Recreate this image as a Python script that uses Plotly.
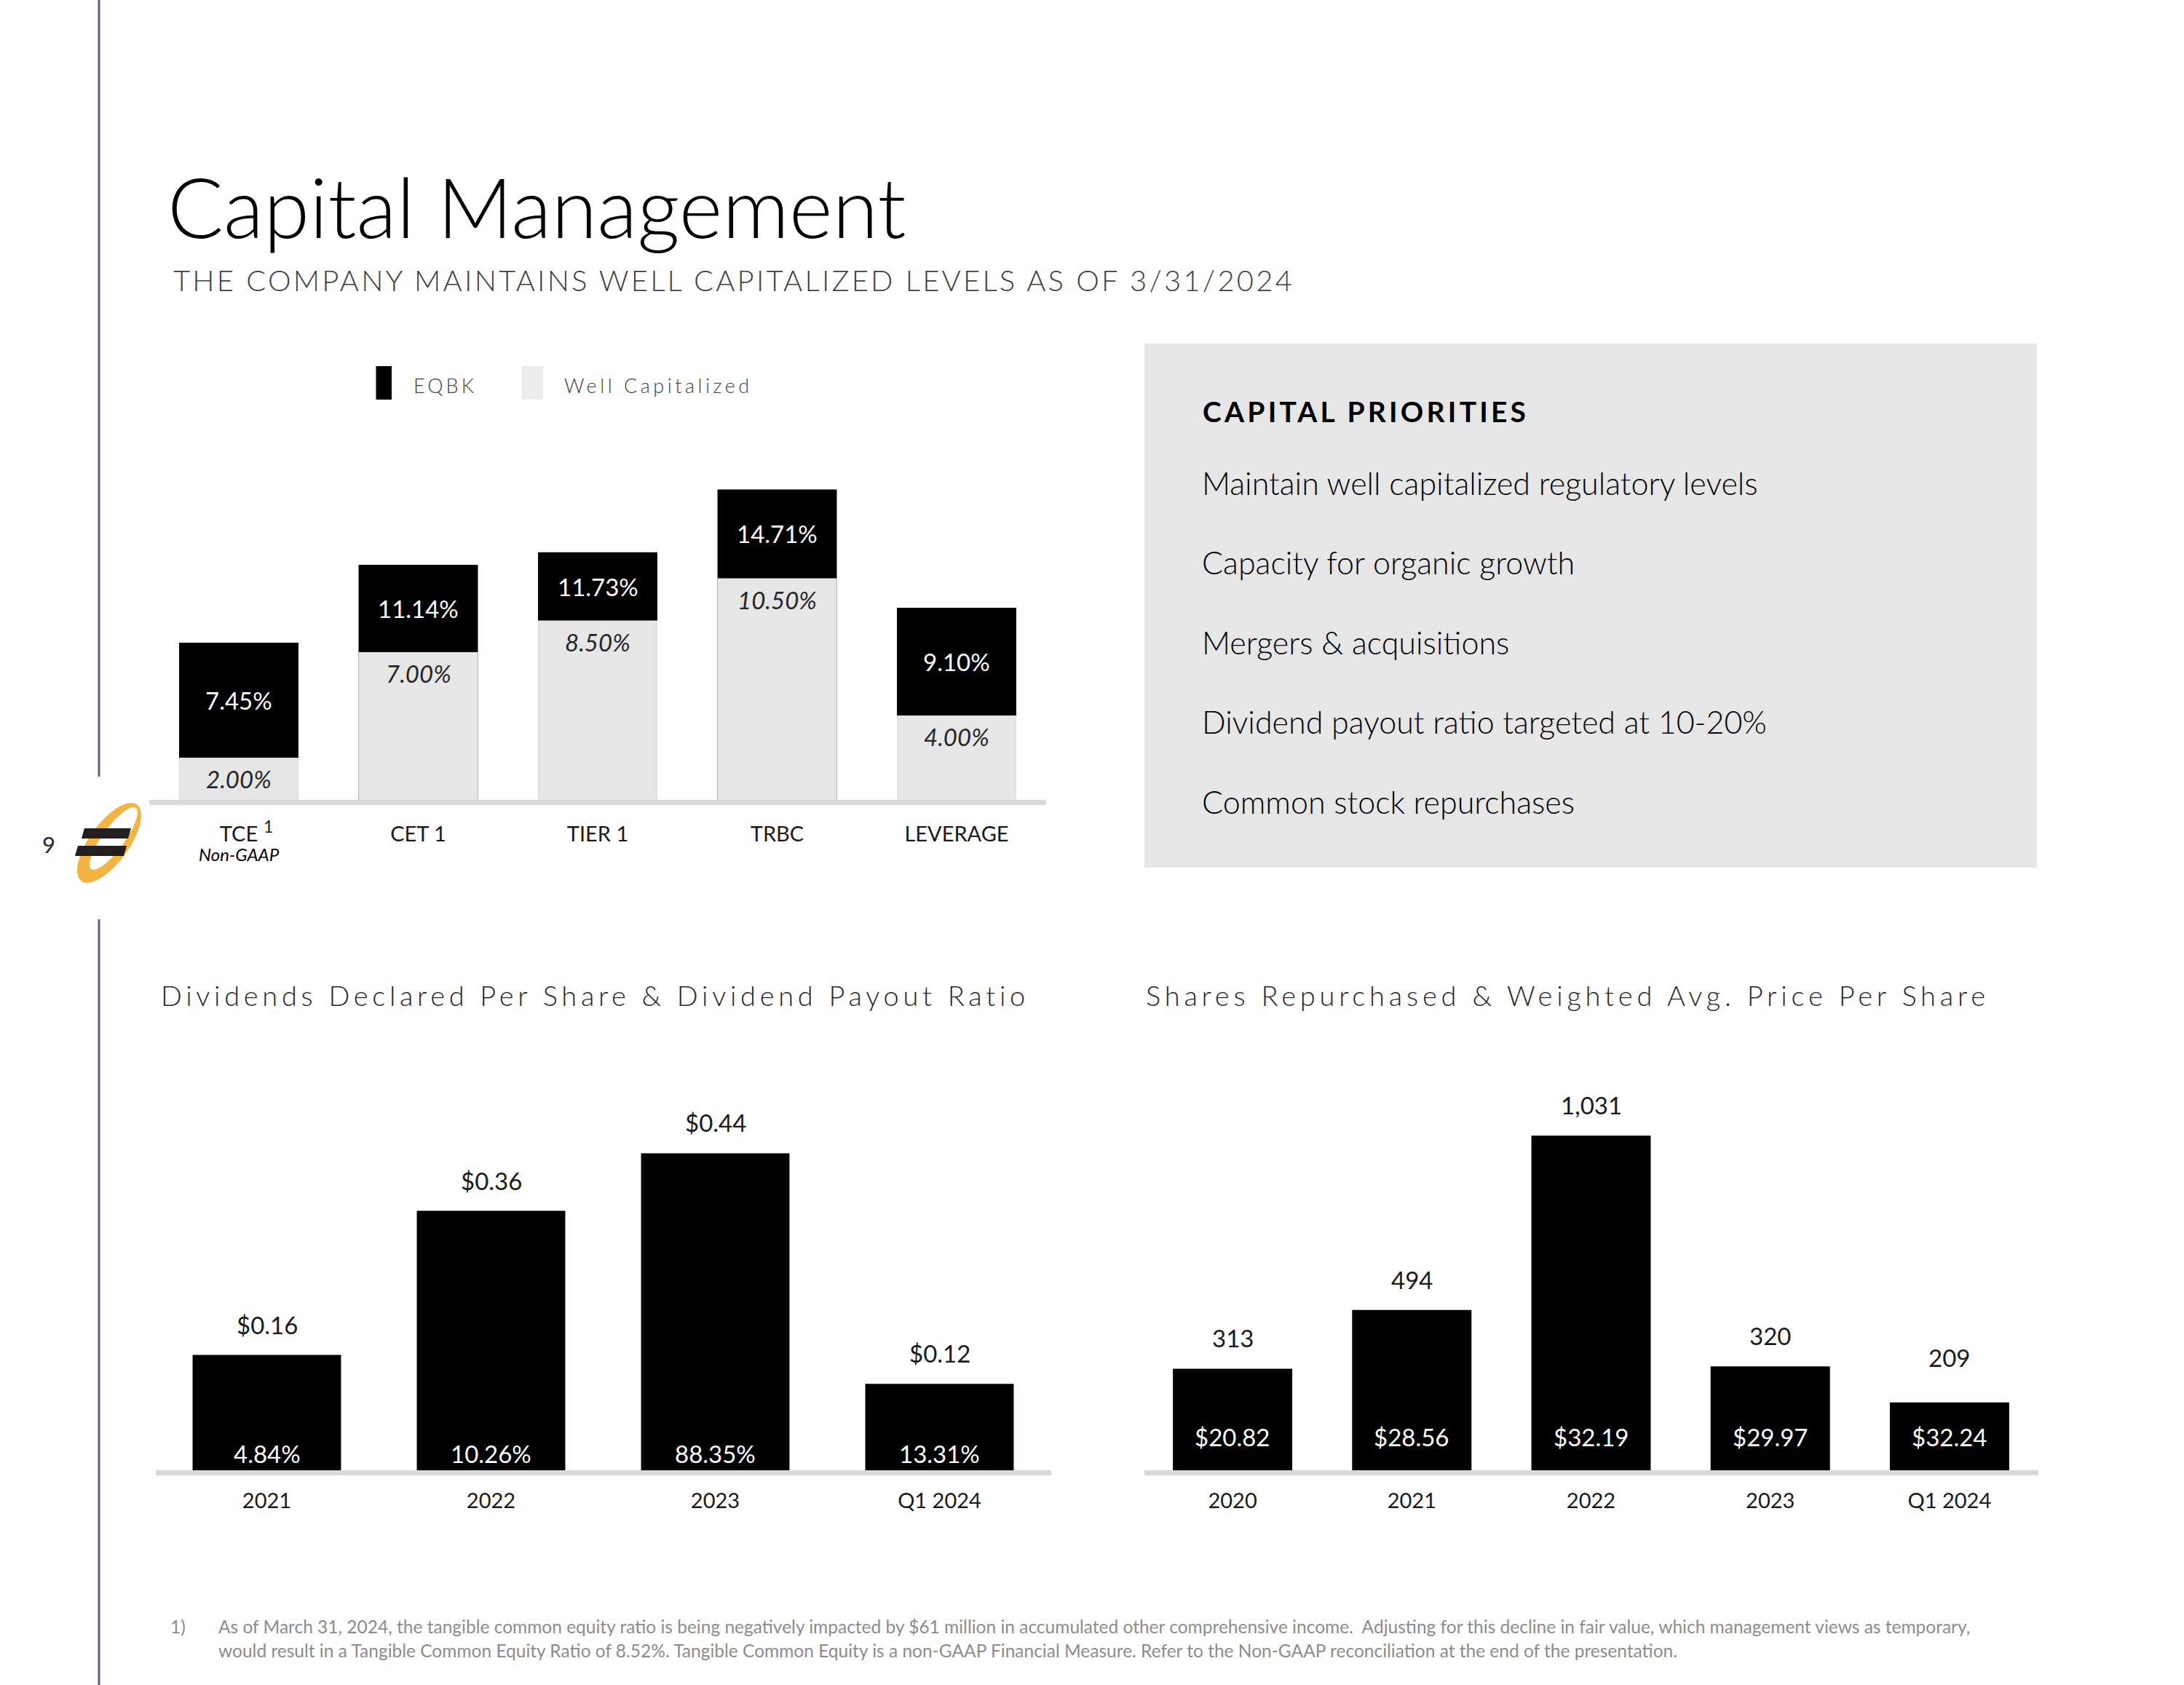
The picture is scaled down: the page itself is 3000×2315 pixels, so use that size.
import json
import numpy as np
import plotly.graph_objects as go

W, H = 3000, 2315
FONT = "Lato"

# ---------------- data ----------------
cap_categories = ["TCE", "CET 1", "TIER 1", "TRBC", "LEVERAGE"]
eqbk_ratio = [7.45, 11.14, 11.73, 14.71, 9.10]
well_cap_ratio = [2.00, 7.00, 8.50, 10.50, 4.00]

div_periods = ["2021", "2022", "2023", "Q1 2024"]
div_per_share = [0.16, 0.36, 0.44, 0.12]
div_payout_ratio = [4.84, 10.26, 88.35, 13.31]

rep_periods = ["2020", "2021", "2022", "2023", "Q1 2024"]
shares_repurchased = [313, 494, 1031, 320, 209]
avg_price_per_share = [20.82, 28.56, 32.19, 29.97, 32.24]

priorities = [
    "Maintain well capitalized regulatory levels",
    "Capacity for organic growth",
    "Mergers & acquisitions",
    "Dividend payout ratio targeted at 10-20%",
    "Common stock repurchases",
]

footnote_lines = [
    "As of March 31, 2024, the tangible common equity ratio is being negatively impacted by $61 million in accumulated other comprehensive income.  Adjusting for this decline in fair value, which management views as temporary,",
    "would result in a Tangible Common Equity Ratio of 8.52%. Tangible Common Equity is a non-GAAP Financial Measure. Refer to the Non-GAAP reconciliation at the end of the presentation.",
]

TITLE = "Capital Management"
SUBTITLE = "THE COMPANY MAINTAINS WELL CAPITALIZED LEVELS AS OF 3/31/2024"
BOX_TITLE = "CAPITAL PRIORITIES"
DIV_TITLE = "Dividends Declared Per Share & Dividend Payout Ratio"
REP_TITLE = "Shares Repurchased & Weighted Avg. Price Per Share"
LEG_EQBK = "EQBK"
LEG_WELL = "Well Capitalized"


def X(px):
    return px / W


def Y(py):
    return 1 - py / H


fig = go.Figure()

# ---------------- traces ----------------
fig.add_trace(go.Bar(x=cap_categories, y=eqbk_ratio, name=LEG_EQBK,
                     marker=dict(color="#000000", line=dict(width=0)),
                     width=0.665, xaxis="x", yaxis="y", hoverinfo="x+y"))
fig.add_trace(go.Bar(x=cap_categories, y=well_cap_ratio, name=LEG_WELL,
                     marker=dict(color="#E7E6E6", line=dict(width=0)),
                     width=0.665, xaxis="x", yaxis="y", hoverinfo="x+y"))
fig.add_trace(go.Bar(x=div_periods, y=div_per_share, name="Dividends Declared Per Share",
                     marker=dict(color="#000000", line=dict(width=0)),
                     width=0.662, xaxis="x2", yaxis="y2", hoverinfo="x+y"))
fig.add_trace(go.Bar(x=rep_periods, y=shares_repurchased, name="Shares Repurchased",
                     marker=dict(color="#000000", line=dict(width=0)),
                     width=0.666, xaxis="x3", yaxis="y3", hoverinfo="x+y"))

tickfont = dict(family=FONT, size=29, color="#1a1a1a")
ax_common = dict(type="category", showgrid=False, zeroline=False, showline=False, ticks="",
                 tickfont=tickfont, fixedrange=True)
yax_common = dict(visible=False, showgrid=False, zeroline=False, fixedrange=True)

fig.update_layout(
    width=W, height=H,
    margin=dict(l=0, r=0, t=0, b=0),
    paper_bgcolor="white", plot_bgcolor="rgba(0,0,0,0)",
    barmode="overlay",
    showlegend=False,
    font=dict(family=FONT, color="#000000"),
    xaxis=dict(domain=[X(204.75), X(1437.25)], range=[-0.5, 4.5], anchor="y", ticklabelstandoff=27, **ax_common),
    yaxis=dict(domain=[Y(1099), Y(1099 - 29 * 17)], range=[0, 17], anchor="x", **yax_common),
    xaxis2=dict(domain=[X(212.5), X(1444.5)], range=[-0.5, 3.5], anchor="y2", ticklabelstandoff=22, **ax_common),
    yaxis2=dict(domain=[Y(2020), Y(2020 - 990 * 0.6)], range=[0, 0.6], anchor="x2", **yax_common),
    xaxis3=dict(domain=[X(1570), X(2801)], range=[-0.5, 4.5], anchor="y3", ticklabelstandoff=22, **ax_common),
    yaxis3=dict(domain=[Y(2020), Y(2020 - 0.446 * 1200)], range=[0, 1200], anchor="x3", **yax_common),
)

shapes = []
ann = []

# background box for priorities
shapes.append(dict(type="rect", xref="paper", yref="paper", x0=X(1572), x1=X(2798), y0=Y(472), y1=Y(1192),
                   fillcolor="#E7E6E6", line=dict(width=0), layer="below"))

# baselines
for (x0, x1, y0) in [(205, 1437, 1099), (214, 1444, 2020), (1572, 2800, 2020)]:
    shapes.append(dict(type="rect", xref="paper", yref="paper", x0=X(x0), x1=X(x1), y0=Y(y0), y1=Y(y0 + 7),
                       fillcolor="#D9D9D9", line=dict(width=0), layer="above"))

# left vertical rule
for (y0, y1) in [(0, 1067), (1263, 2315)]:
    shapes.append(dict(type="line", xref="paper", yref="paper", x0=X(136), x1=X(136), y0=Y(y0), y1=Y(y1),
                       line=dict(color="#5A6378", width=3)))

# legend swatches
shapes.append(dict(type="rect", xref="paper", yref="paper", x0=X(516.5), x1=X(538), y0=Y(503), y1=Y(549),
                   fillcolor="#000000", line=dict(width=0)))
shapes.append(dict(type="rect", xref="paper", yref="paper", x0=X(716.5), x1=X(746), y0=Y(503), y1=Y(549),
                   fillcolor="#EDEDED", line=dict(width=0)))


# logo
def ellipse_path(cx, cy, a, b, ang, n=90, reverse=False):
    t = np.linspace(0, 2 * np.pi, n, endpoint=False)
    if reverse:
        t = t[::-1]
    th = np.radians(ang)
    ux, uy = np.cos(th), -np.sin(th)
    vx, vy = np.sin(th), np.cos(th)
    xs = cx + a * np.cos(t) * ux + b * np.sin(t) * vx
    ys = cy + a * np.cos(t) * uy + b * np.sin(t) * vy
    pts = [f"{X(x):.5f},{Y(y):.5f}" for x, y in zip(xs, ys)]
    return "M " + " L ".join(pts) + " Z"


ring = ellipse_path(150, 1158, 65, 27, 54) + " " + ellipse_path(156, 1152, 52, 15, 54, reverse=True)
shapes.append(dict(type="path", xref="paper", yref="paper", path=ring, fillcolor="#F2B544", line=dict(width=0)))


def poly(pts):
    return "M " + " L ".join(f"{X(x):.5f},{Y(y):.5f}" for x, y in pts) + " Z"


shapes.append(dict(type="path", xref="paper", yref="paper",
                   path=poly([(116, 1138), (180, 1138), (176, 1152), (112, 1152)]),
                   fillcolor="#231F20", line=dict(width=0)))
shapes.append(dict(type="path", xref="paper", yref="paper",
                   path=poly([(107, 1162), (174, 1162), (170, 1176), (103, 1176)]),
                   fillcolor="#231F20", line=dict(width=0)))


def txt(x, y, text, size, color="#000000", xanchor="left", weight=None, style=None, **kw):
    f = dict(family=FONT, size=size, color=color)
    if weight is not None:
        f["weight"] = weight
    if style is not None:
        f["style"] = style
    d = dict(xref="paper", yref="paper", x=X(x), y=Y(y), text=text, showarrow=False,
             xanchor=xanchor, yanchor="middle", align="left" if xanchor == "left" else "center", font=f)
    d.update(kw)
    ann.append(d)


# titles
txt(228, 282, TITLE, 114, "#000000", weight=300)
txt(236, 385, SUBTITLE, 40, "#404040", weight=300)
txt(67, 1160, "9", 31, "#262626", xanchor="center")

# legend text
txt(566, 529, LEG_EQBK, 27, "#404040", weight=300)
txt(773, 529, LEG_WELL, 27, "#404040", weight=300)

# capital priorities
txt(1650, 565, BOX_TITLE, 39, "#000000", weight="bold")
for i, p in enumerate(priorities):
    txt(1649, 663 + i * 109.5, p, 43, "#000000", weight=300)

# bottom chart titles
txt(219, 1367, DIV_TITLE, 38, "#262626", weight=300)
txt(1572, 1367, REP_TITLE, 38, "#262626", weight=300)

# footnote
txt(232, 2234, "1)", 24.5, "#8C8C8C")
txt(298, 2234, footnote_lines[0], 24.5, "#8C8C8C")
txt(298, 2267, footnote_lines[1], 24.5, "#8C8C8C")

# top chart value labels
for i, (e, w) in enumerate(zip(eqbk_ratio, well_cap_ratio)):
    ann.append(dict(xref="x", yref="y", x=i, y=(e + w) / 2, text=f"{e:.2f}%", showarrow=False,
                    yanchor="middle", font=dict(family=FONT, size=33, color="#FFFFFF")))
    ann.append(dict(xref="x", yref="y", x=i, y=w, yshift=-29, text=f"{w:.2f}%", showarrow=False,
                    yanchor="middle", font=dict(family=FONT, size=33, color="#262626", style="italic")))

# TCE footnote marker and Non-GAAP
txt(368, 1135, "1", 23, "#1a1a1a", xanchor="center")
ann.append(dict(xref="x", yref="paper", x=0, y=Y(1173), text="Non-GAAP", showarrow=False,
                yanchor="middle", font=dict(family=FONT, size=24, color="#000000", style="italic")))

# dividends labels
for i, (v, r) in enumerate(zip(div_per_share, div_payout_ratio)):
    ann.append(dict(xref="x2", yref="y2", x=i, y=v, yshift=42, text=f"${v:.2f}", showarrow=False,
                    yanchor="middle", font=dict(family=FONT, size=33, color="#1a1a1a")))
    ann.append(dict(xref="x2", yref="y2", x=i, y=0, yshift=23, text=f"{r:.2f}%", showarrow=False,
                    yanchor="middle", font=dict(family=FONT, size=33, color="#FFFFFF")))

# repurchase labels
n_rep = len(rep_periods)
for i, (s, pr) in enumerate(zip(shares_repurchased, avg_price_per_share)):
    ann.append(dict(xref="x3", yref="y3", x=i, y=s, yshift=62 if i == n_rep - 1 else 42, text=f"{s:,}",
                    showarrow=False, yanchor="middle", font=dict(family=FONT, size=33, color="#1a1a1a")))
    ann.append(dict(xref="x3", yref="y3", x=i, y=0, yshift=46, text=f"${pr:.2f}", showarrow=False,
                    yanchor="middle", font=dict(family=FONT, size=33, color="#FFFFFF")))

fig.update_layout(shapes=shapes, annotations=ann)

# letter tracking (px) for spaced headings
spacing = {SUBTITLE: 3.2, LEG_EQBK: 4.0, LEG_WELL: 4.5, BOX_TITLE: 4.2, DIV_TITLE: 5.7, REP_TITLE: 5.8}
post_js = """
document.body.style.margin = '0';
document.body.style.padding = '0';
var gd = document.getElementById('{plot_id}');
var sp = SPACING;
gd.querySelectorAll('text.annotation-text').forEach(function (t) {
  var k = t.textContent;
  if (Object.prototype.hasOwnProperty.call(sp, k)) { t.style.letterSpacing = sp[k] + 'px'; }
});
""".replace("SPACING", json.dumps(spacing))

fig.write_html("out.html", post_script=post_js, config={"displayModeBar": False})
